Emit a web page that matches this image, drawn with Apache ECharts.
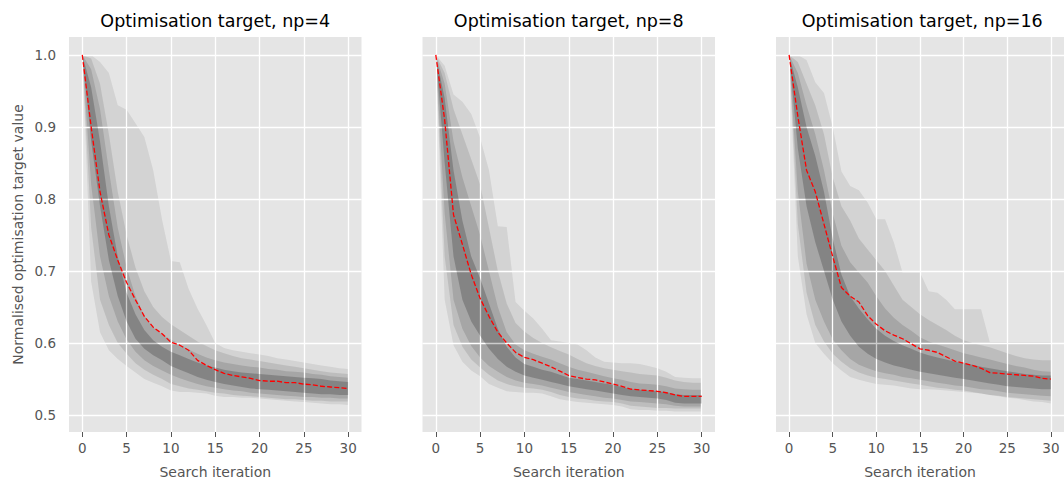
<!DOCTYPE html>
<html><head><meta charset="utf-8">
<script src="https://cdn.jsdelivr.net/npm/echarts@6/dist/echarts.min.js"></script>
<style>html,body{margin:0;padding:0;background:#fff}#c{width:1064px;height:484px}</style>
</head><body><div id="c"></div>
<script>
const iterations = [0,1,2,3,4,5,6,7,8,9,10,11,12,13,14,15,16,17,18,19,20,21,22,23,24,25,26,27,28,29,30];
const xTicks = [0,5,10,15,20,25,30];
const yTicks = [0.5,0.6,0.7,0.8,0.9,1.0];
const titles = ['Optimisation target, np=4','Optimisation target, np=8','Optimisation target, np=16'];
const xName = 'Search iteration';
const yName = 'Normalised optimisation target value';

// np=4
const np4_median = [1.000,0.900,0.810,0.750,0.715,0.684,0.660,0.637,0.622,0.613,0.601,0.597,0.590,0.576,0.569,0.563,0.558,0.555,0.553,0.551,0.548,0.547,0.547,0.545,0.545,0.543,0.542,0.540,0.539,0.538,0.537];
const np4_A_up = [1.000,1.000,0.990,0.975,0.930,0.924,0.905,0.886,0.840,0.771,0.714,0.712,0.675,0.648,0.625,0.600,0.593,0.590,0.588,0.586,0.584,0.582,0.579,0.577,0.575,0.573,0.571,0.569,0.567,0.565,0.564];
const np4_B_up = [1.000,0.995,0.960,0.890,0.810,0.750,0.705,0.672,0.650,0.636,0.626,0.618,0.610,0.602,0.596,0.590,0.586,0.582,0.579,0.577,0.575,0.573,0.571,0.569,0.567,0.565,0.563,0.561,0.559,0.558,0.557];
const np4_C_up = [1.000,0.980,0.925,0.840,0.760,0.705,0.665,0.638,0.622,0.612,0.605,0.598,0.591,0.585,0.580,0.576,0.573,0.571,0.569,0.567,0.566,0.564,0.563,0.561,0.560,0.559,0.557,0.556,0.554,0.553,0.552];
const np4_D_up = [1.000,0.955,0.880,0.790,0.720,0.670,0.640,0.618,0.604,0.595,0.588,0.583,0.578,0.573,0.569,0.566,0.563,0.561,0.559,0.558,0.557,0.556,0.555,0.554,0.553,0.552,0.551,0.550,0.548,0.547,0.546];
const np4_D_lo = [1.000,0.880,0.790,0.715,0.665,0.630,0.606,0.592,0.583,0.576,0.568,0.563,0.558,0.553,0.549,0.546,0.543,0.541,0.539,0.537,0.536,0.535,0.534,0.533,0.532,0.531,0.530,0.529,0.529,0.528,0.528];
const np4_C_lo = [1.000,0.820,0.720,0.665,0.630,0.605,0.588,0.576,0.568,0.562,0.556,0.551,0.547,0.543,0.540,0.538,0.536,0.534,0.533,0.531,0.530,0.529,0.528,0.527,0.526,0.525,0.525,0.524,0.524,0.523,0.523];
const np4_B_lo = [1.000,0.760,0.660,0.625,0.600,0.585,0.572,0.563,0.556,0.550,0.543,0.540,0.537,0.535,0.533,0.531,0.530,0.528,0.527,0.526,0.525,0.524,0.523,0.522,0.522,0.521,0.520,0.520,0.519,0.519,0.519];
const np4_A_lo = [1.000,0.685,0.615,0.590,0.578,0.568,0.559,0.550,0.545,0.540,0.534,0.532,0.532,0.531,0.530,0.527,0.525,0.525,0.524,0.524,0.523,0.522,0.521,0.520,0.519,0.518,0.517,0.516,0.515,0.515,0.514];

// np=8
const np8_median = [1.000,0.910,0.778,0.737,0.695,0.662,0.637,0.615,0.600,0.587,0.580,0.577,0.572,0.567,0.561,0.555,0.552,0.550,0.549,0.546,0.543,0.540,0.536,0.535,0.534,0.533,0.531,0.528,0.526,0.526,0.526];
const np8_A_up = [1.000,0.985,0.945,0.935,0.918,0.885,0.840,0.762,0.761,0.657,0.645,0.634,0.620,0.604,0.602,0.600,0.598,0.590,0.580,0.574,0.573,0.572,0.572,0.571,0.568,0.565,0.560,0.553,0.552,0.551,0.551];
const np8_B_up = [1.000,0.975,0.925,0.890,0.855,0.820,0.760,0.700,0.655,0.628,0.616,0.607,0.600,0.594,0.589,0.584,0.578,0.572,0.568,0.565,0.563,0.561,0.559,0.557,0.556,0.555,0.552,0.548,0.546,0.545,0.545];
const np8_C_up = [1.000,0.960,0.880,0.830,0.790,0.750,0.700,0.650,0.615,0.598,0.590,0.585,0.581,0.577,0.572,0.567,0.563,0.560,0.557,0.554,0.551,0.549,0.546,0.544,0.543,0.542,0.540,0.537,0.536,0.535,0.535];
const np8_D_up = [1.000,0.940,0.840,0.770,0.720,0.690,0.655,0.620,0.595,0.580,0.571,0.567,0.563,0.560,0.556,0.552,0.550,0.548,0.546,0.544,0.542,0.539,0.536,0.535,0.534,0.533,0.532,0.529,0.528,0.528,0.528];
const np8_D_lo = [1.000,0.850,0.720,0.660,0.630,0.610,0.592,0.578,0.567,0.560,0.555,0.552,0.549,0.546,0.543,0.540,0.538,0.536,0.534,0.532,0.530,0.528,0.526,0.525,0.524,0.523,0.521,0.517,0.516,0.516,0.516];
const np8_C_lo = [1.000,0.780,0.660,0.620,0.596,0.580,0.568,0.560,0.553,0.548,0.545,0.543,0.541,0.538,0.535,0.532,0.530,0.528,0.526,0.524,0.523,0.521,0.519,0.518,0.517,0.516,0.515,0.513,0.512,0.512,0.512];
const np8_B_lo = [1.000,0.720,0.625,0.595,0.577,0.566,0.556,0.548,0.543,0.540,0.538,0.537,0.535,0.532,0.528,0.525,0.523,0.522,0.520,0.519,0.518,0.516,0.513,0.512,0.511,0.510,0.510,0.509,0.509,0.509,0.509];
const np8_A_lo = [1.000,0.660,0.597,0.574,0.562,0.554,0.543,0.538,0.533,0.532,0.531,0.531,0.530,0.526,0.522,0.520,0.518,0.517,0.516,0.515,0.514,0.512,0.508,0.507,0.507,0.506,0.506,0.505,0.505,0.505,0.505];

// np=16
const np16_median = [1.000,0.915,0.840,0.810,0.765,0.720,0.677,0.665,0.657,0.638,0.626,0.617,0.611,0.606,0.599,0.592,0.590,0.587,0.581,0.575,0.572,0.569,0.565,0.559,0.558,0.557,0.556,0.555,0.554,0.551,0.550];
const np16_A_up = [1.000,1.000,0.993,0.962,0.947,0.900,0.838,0.818,0.812,0.795,0.772,0.772,0.740,0.698,0.698,0.698,0.672,0.670,0.660,0.647,0.647,0.647,0.647,0.601,0.601,0.601,0.601,0.601,0.601,0.601,0.601];
const np16_B_up = [1.000,0.990,0.960,0.930,0.890,0.830,0.790,0.770,0.745,0.730,0.715,0.700,0.680,0.660,0.650,0.640,0.632,0.625,0.618,0.610,0.604,0.600,0.597,0.594,0.590,0.586,0.582,0.579,0.577,0.576,0.576];
const np16_C_up = [1.000,0.975,0.930,0.890,0.840,0.780,0.735,0.712,0.698,0.684,0.665,0.648,0.635,0.625,0.617,0.608,0.602,0.598,0.594,0.590,0.586,0.583,0.580,0.577,0.574,0.571,0.568,0.566,0.563,0.561,0.560];
const np16_D_up = [1.000,0.955,0.900,0.860,0.810,0.745,0.695,0.665,0.648,0.633,0.620,0.610,0.603,0.597,0.592,0.587,0.583,0.580,0.577,0.574,0.572,0.570,0.567,0.565,0.563,0.561,0.559,0.557,0.556,0.555,0.555];
const np16_D_lo = [1.000,0.870,0.790,0.740,0.700,0.660,0.630,0.610,0.595,0.585,0.578,0.573,0.569,0.566,0.563,0.560,0.558,0.556,0.554,0.552,0.550,0.548,0.546,0.544,0.542,0.540,0.539,0.538,0.537,0.536,0.536];
const np16_C_lo = [1.000,0.810,0.710,0.660,0.630,0.605,0.590,0.578,0.570,0.565,0.561,0.558,0.556,0.553,0.551,0.549,0.547,0.545,0.543,0.541,0.540,0.538,0.536,0.535,0.533,0.531,0.530,0.529,0.528,0.527,0.526];
const np16_B_lo = [1.000,0.765,0.670,0.625,0.602,0.585,0.574,0.565,0.559,0.555,0.552,0.550,0.548,0.546,0.544,0.542,0.540,0.538,0.537,0.535,0.534,0.532,0.530,0.528,0.527,0.525,0.524,0.523,0.522,0.521,0.520];
const np16_A_lo = [1.000,0.720,0.640,0.600,0.585,0.572,0.562,0.553,0.549,0.546,0.543,0.542,0.541,0.539,0.537,0.536,0.536,0.535,0.534,0.533,0.532,0.531,0.530,0.528,0.526,0.524,0.523,0.521,0.519,0.518,0.516];

const panels = [
  {median: np4_median, bands: [[np4_A_lo,np4_A_up],[np4_B_lo,np4_B_up],[np4_C_lo,np4_C_up],[np4_D_lo,np4_D_up]]},
  {median: np8_median, bands: [[np8_A_lo,np8_A_up],[np8_B_lo,np8_B_up],[np8_C_lo,np8_C_up],[np8_D_lo,np8_D_up]]},
  {median: np16_median, bands: [[np16_A_lo,np16_A_up],[np16_B_lo,np16_B_up],[np16_C_lo,np16_C_up],[np16_D_lo,np16_D_up]]}
];

const FONT = 'DejaVu Sans';
const gridLefts = [69, 422.5, 776];
const gridW = 292.5, gridTop = 37, gridH = 397;
const yMin = 0.47652, yMax = 1.02486;
const bandAlpha = [0.08, 0.10, 0.12, 0.20];

const chart = echarts.init(document.getElementById('c'), null, {renderer: 'svg', width: 1064, height: 484});
const grids = [], xAxes = [], yAxes = [], series = [], graphics = [];

panels.forEach((p, k) => {
  grids.push({left: gridLefts[k], top: gridTop, width: gridW, height: gridH, show: true,
    backgroundColor: '#E5E5E5', borderWidth: 0, containLabel: false});
  xAxes.push({gridIndex: k, type: 'value', min: -1.5, max: 31.5,
    axisLine: {show: false}, splitLine: {show: false},
    axisTick: {show: true, customValues: xTicks, length: 5, lineStyle: {color: '#555', width: 1}},
    axisLabel: {customValues: xTicks, color: '#555', fontSize: 13.5, fontFamily: FONT, margin: 9},
    name: xName, nameLocation: 'middle', nameGap: 33,
    nameTextStyle: {color: '#555', fontSize: 14, fontFamily: FONT}});
  yAxes.push({gridIndex: k, type: 'value', min: yMin, max: yMax,
    axisLine: {show: false}, splitLine: {show: false},
    axisTick: {show: true, customValues: yTicks, length: 5, lineStyle: {color: '#555', width: 1}},
    axisLabel: {show: k === 0, customValues: yTicks, color: '#555', fontSize: 13.5, fontFamily: FONT, margin: 13,
      formatter: v => Number(v).toFixed(1)},
    name: k === 0 ? yName : '', nameLocation: 'middle', nameGap: 44, nameRotate: 90,
    nameTextStyle: {color: '#555', fontSize: 14, fontFamily: FONT}});
  // white grid lines
  series.push({type: 'line', xAxisIndex: k, yAxisIndex: k, z: 1, data: [], silent: true, animation: false,
    markLine: {silent: true, symbol: ['none','none'], animation: false, label: {show: false},
      lineStyle: {color: '#ffffff', width: 1.3, type: 'solid'},
      data: xTicks.map(v => ({xAxis: v})).concat(yTicks.map(v => ({yAxis: v})))}});
  // bands
  p.bands.forEach((b, j) => {
    const lo = b[0], up = b[1];
    series.push({type: 'custom', xAxisIndex: k, yAxisIndex: k, z: 2 + j, silent: true, animation: false,
      data: [[iterations[0], up[0]]],
      renderItem: (params, api) => {
        const pts = [];
        for (let i = 0; i < iterations.length; i++) pts.push(api.coord([iterations[i], up[i]]));
        for (let i = iterations.length - 1; i >= 0; i--) pts.push(api.coord([iterations[i], lo[i]]));
        return {type: 'polygon', shape: {points: pts}, style: {fill: 'rgba(0,0,0,' + bandAlpha[j] + ')', stroke: null}};
      }});
  });
  // median line
  series.push({type: 'line', xAxisIndex: k, yAxisIndex: k, z: 10, symbol: 'none', animation: false, silent: true,
    data: iterations.map((x, i) => [x, p.median[i]]),
    lineStyle: {color: '#ff0000', width: 1.3, type: [5, 2.2]}});
  graphics.push({type: 'text', x: gridLefts[k] + gridW / 2, y: 20.5,
    style: {text: titles[k], fill: '#000', font: '17.5px "DejaVu Sans"', align: 'center', verticalAlign: 'middle'}});
});

chart.setOption({
  animation: false,
  backgroundColor: '#ffffff',
  grid: grids, xAxis: xAxes, yAxis: yAxes, series: series, graphic: graphics
});
</script></body></html>
